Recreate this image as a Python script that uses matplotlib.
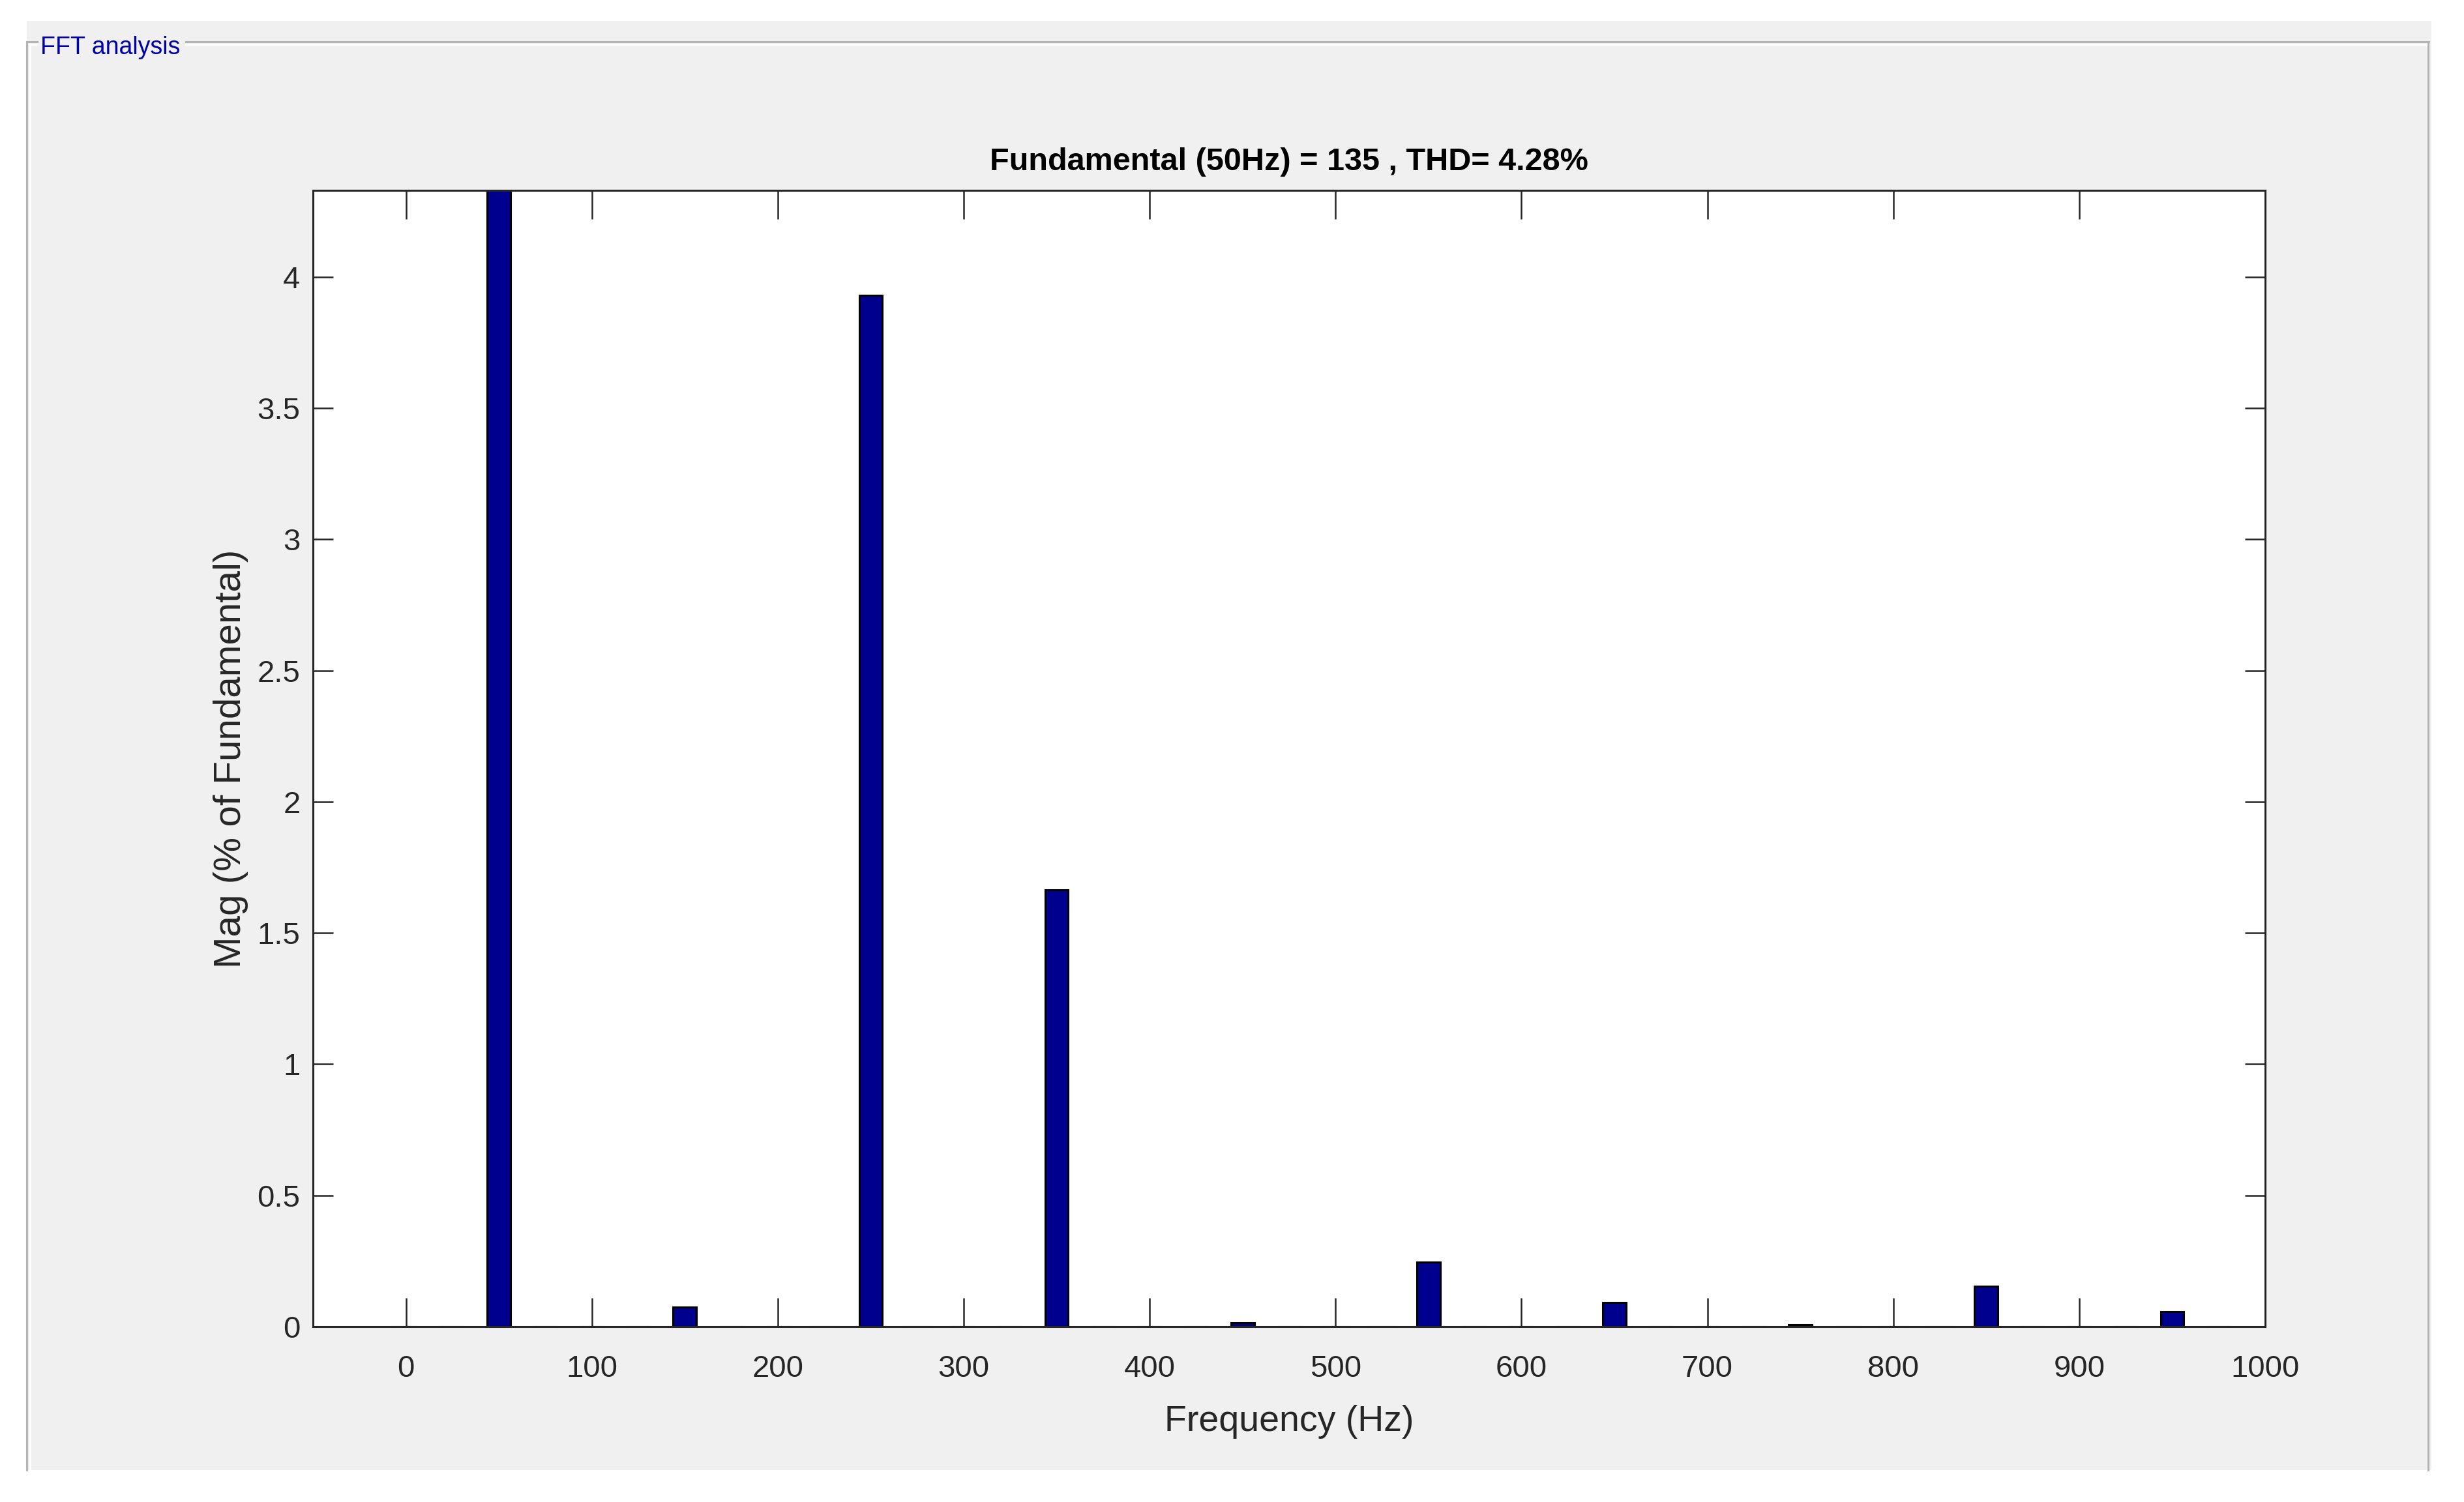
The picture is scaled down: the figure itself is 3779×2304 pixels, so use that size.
import matplotlib
matplotlib.use("Agg")
import matplotlib.pyplot as plt
from matplotlib.lines import Line2D
from matplotlib.patches import Rectangle

# harmonic spectrum, every 25 Hz bin from 0 to 975 Hz (% of fundamental)
freqs = list(range(0, 1000, 25))
mag = [0.0] * len(freqs)
harmonics = {50: 100.0, 150: 0.075, 250: 3.93, 350: 1.665, 450: 0.015,
             550: 0.247, 650: 0.091, 750: 0.007, 850: 0.155, 950: 0.056}
for f, v in harmonics.items():
    mag[freqs.index(f)] = v

x_ticks = list(range(0, 1001, 100))
y_ticks = [0, 0.5, 1, 1.5, 2, 2.5, 3, 3.5, 4]
y_tick_labels = ["0", "0.5", "1", "1.5", "2", "2.5", "3", "3.5", "4"]
title = "Fundamental (50Hz) = 135 , THD= 4.28%"
panel_title = "FFT analysis"

FONT = ["Liberation Sans", "DejaVu Sans"]
INK = "#262626"
W, H = 3780, 2304

fig = plt.figure(figsize=(W / 100, H / 100), dpi=100, facecolor="white")


def fx(px):
    return px / W


def fy(py):
    return 1 - py / H


# grey panel and etched group-box frame
fig.add_artist(Rectangle((fx(41), fy(2255)), fx(3729) - fx(41), fy(32) - fy(2255),
                         transform=fig.transFigure, facecolor="#F0F0F0", edgecolor="none", zorder=0))
grey, white, lw = "#B4B4B4", "white", 2.2
frame = [
    ([41, 41], [64, 2255], grey), ([46, 46], [68, 2255], white),
    ([41, 57], [64, 64], grey), ([285, 3725], [64, 64], grey),
    ([46, 57], [68, 68], white), ([285, 3721], [68, 68], white),
    ([3724, 3724], [64, 2255], grey),
]
for xs, ys, c in frame:
    fig.add_artist(Line2D([fx(v) for v in xs], [fy(v) for v in ys], color=c, lw=lw,
                          transform=fig.transFigure, zorder=1))
fig.text(fx(62), fy(83), panel_title, color="#0000AA", fontsize=27, family=FONT,
         ha="left", va="baseline")

ax = fig.add_axes([fx(480), fy(2035), fx(3474) - fx(480), fy(292) - fy(2035)])
ax.set_facecolor("white")
ax.bar(freqs, mag, width=12.5, color="#00008F", edgecolor="black", linewidth=2.2, zorder=2)
ax.set_xlim(-50, 1000)
ax.set_ylim(0, 4.33)

ax.set_xticks(x_ticks)
ax.set_xticklabels([str(v) for v in x_ticks], family=FONT, fontsize=34, color=INK)
ax.set_yticks(y_ticks)
ax.set_yticklabels(y_tick_labels, family=FONT, fontsize=34, color=INK)
ax.tick_params(axis="x", direction="in", length=31.5, width=1.8, color=INK,
               top=True, bottom=True, pad=31)
ax.tick_params(axis="y", direction="in", length=22.3, width=1.8, color=INK,
               left=True, right=True, pad=14)
for sp in ax.spines.values():
    sp.set_linewidth(2.2)
    sp.set_color(INK)
    sp.set_zorder(3)

ax.set_title(title, family=FONT, fontsize=35, fontweight="bold", color="black", pad=22)
ax.set_xlabel("Frequency (Hz)", family=FONT, fontsize=40, color=INK, labelpad=24)
ax.set_ylabel("Mag (% of Fundamental)", family=FONT, fontsize=42, color=INK, labelpad=10)

fig.savefig("out.png", dpi=100, facecolor="white")
